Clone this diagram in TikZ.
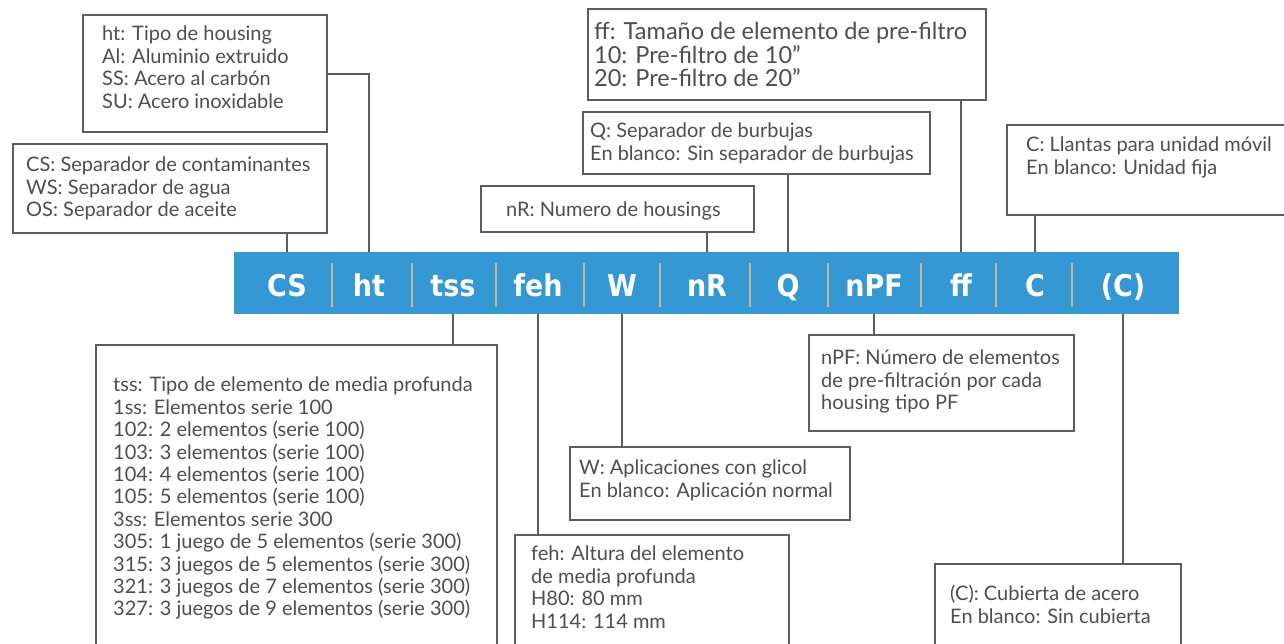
\documentclass[tikz,border=0pt]{standalone}
\usepackage{fontspec}
\setmainfont{Lato}
\newfontfamily\barfont{DejaVu Sans}[FakeStretch=0.9]
\usepackage{tikz}

\definecolor{barblue}{RGB}{52,152,213}
\definecolor{sepgold}{RGB}{201,184,146}
\definecolor{boxgray}{RGB}{92,92,92}
\definecolor{txtgray}{RGB}{78,78,78}

\tikzset{
  infobox/.style={draw=boxgray, line width=2.2pt, anchor=north west, inner sep=0pt},
  infotext/.style={anchor=north west, align=left, inner sep=0pt, text=txtgray, font=\fontsize{20}{22.4}\selectfont},
  bigtext/.style={infotext, font=\fontsize{23.5}{23.5}\selectfont},
  barlabel/.style={anchor=base, text=white, inner sep=0pt, font=\barfont\bfseries\fontsize{30}{30}\selectfont},
  link/.style={draw=boxgray, line width=2.2pt},
  sepline/.style={draw=sepgold, line width=2pt},
}

\begin{document}
\begin{tikzpicture}[x=1pt,y=-1pt]
      \useasboundingbox (0,0) rectangle (1284,643);

      %Banner
      \node[fill=barblue, anchor=north west, inner sep=0pt, minimum width=945pt, minimum height=62pt] (bar) at (234,252) {};
      \foreach \id/\txt/\x in {cs/CS/287, ht/ht/369, tss/tss/453, feh/feh/538, w/W/622, nr/nR/707, q/Q/788, npf/nPF/874, ff/ff/961, c/C/1035, cc/{(C)}/1123}
        \node[barlabel] (lbl\id) at (\x,296) {\txt};
      \foreach \x in {332,412,496,584,660,750,828,921,996,1072}
        \draw[sepline] (\x,263) -- (\x,307);

      %Top boxes
      \node[infobox, minimum width=244pt, minimum height=117pt] (htbox) at (82,14) {};
      \node[infotext] (httext) at (102,26) {ht: Tipo de housing\\Al: Aluminio extruido\\SS: Acero al carbón\\SU: Acero inoxidable};
      \node[infobox, minimum width=314pt, minimum height=89pt] (csbox) at (12,143) {};
      \node[infotext] (cstext) at (26,157) {CS: Separador de contaminantes\\WS: Separador de agua\\OS: Separador de aceite};
      \node[infobox, minimum width=273pt, minimum height=46pt] (nrbox) at (480,185) {};
      \node[infotext] (nrtext) at (506,202) {nR: Numero de housings};
      \node[infobox, minimum width=347pt, minimum height=62pt] (qbox) at (582,111) {};
      \node[infotext] (qtext) at (590,123) {Q: Separador de burbujas\\En blanco: Sin separador de burbujas};
      \node[infobox, minimum width=398pt, minimum height=91pt] (ffbox) at (587,8) {};
      \node[bigtext] (fftext) at (594,22) {ff: Tamaño de elemento de pre-filtro\\10: Pre-filtro de 10”\\20: Pre-filtro de 20”};
      \node[infobox, minimum width=300pt, minimum height=90pt] (cbox) at (1006,124) {};
      \node[infotext] (ctext) at (1026,137) {C: Llantas para unidad móvil\\En blanco: Unidad fija};

      %Bottom boxes
      \node[infobox, minimum width=401pt, minimum height=320pt] (tssbox) at (95,344) {};
      \node[infotext] (tsstext) at (113,377) {tss: Tipo de elemento de media profunda\\1ss: Elementos serie 100\\102: 2 elementos (serie 100)\\103: 3 elementos (serie 100)\\104: 4 elementos (serie 100)\\105: 5 elementos (serie 100)\\3ss: Elementos serie 300\\305: 1 juego de 5 elementos (serie 300)\\315: 3 juegos de 5 elementos (serie 300)\\321: 3 juegos de 7 elementos (serie 300)\\327: 3 juegos de 9 elementos (serie 300)};
      \node[infobox, minimum width=280pt, minimum height=73pt] (wbox) at (569,446) {};
      \node[infotext] (wtext) at (579,460) {W: Aplicaciones con glicol\\En blanco: Aplicación normal};
      \node[infobox, minimum width=274pt, minimum height=130pt] (fehbox) at (514,534) {};
      \node[infotext] (fehtext) at (531,546) {feh: Altura del elemento\\de media profunda\\H80: 80 mm\\H114: 114 mm};
      \node[infobox, minimum width=265pt, minimum height=96pt] (npfbox) at (808,334) {};
      \node[infotext] (npftext) at (821,350) {nPF: Número de elementos\\de pre-filtración por cada\\housing tipo PF};
      \node[infobox, minimum width=246pt, minimum height=100pt] (ccbox) at (934,563) {};
      \node[infotext] (cctext) at (950,585) {(C): Cubierta de acero\\En blanco: Sin cubierta};

      %Connectors
      \draw[link] (csbox.south -| lblcs) -- (lblcs |- bar.north);
      \draw[link] (htbox.east) -| (lblht |- bar.north);
      \draw[link] (nrbox.south -| lblnr) -- (lblnr |- bar.north);
      \draw[link] (qbox.south -| lblq) -- (lblq |- bar.north);
      \draw[link] (ffbox.south -| lblff) -- (lblff |- bar.north);
      \draw[link] (cbox.south -| lblc) -- (lblc |- bar.north);
      \draw[link] (lbltss |- bar.south) -- (lbltss |- tssbox.north);
      \draw[link] (lblfeh |- bar.south) -- (lblfeh |- fehbox.north);
      \draw[link] (lblw |- bar.south) -- (lblw |- wbox.north);
      \draw[link] (lblnpf |- bar.south) -- (lblnpf |- npfbox.north);
      \draw[link] (lblcc |- bar.south) -- (lblcc |- ccbox.north);
\end{tikzpicture}
\end{document}
